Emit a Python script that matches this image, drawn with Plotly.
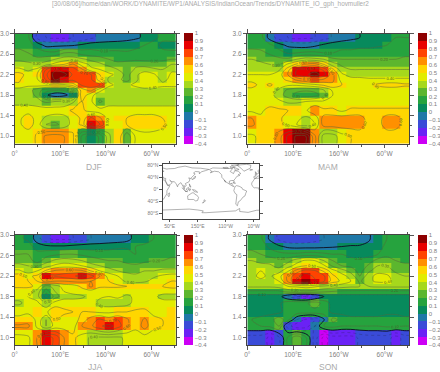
import numpy as np
import plotly.graph_objects as go

TITLE = "[30/08/06]/home/dan/WORK/DYNAMITE/WP1/ANALYSIS/IndianOcean/Trends/DYNAMITE_IO_gph_hovmuller2"
X_EDGES = list(np.linspace(0, 354, 19))
Y_EDGES = [3.0, 2.85, 2.7, 2.55, 2.45, 2.35, 2.25, 2.15, 2.05, 1.95, 1.85, 1.75, 1.6, 1.4, 1.3, 1.15, 0.85]
LEVELS = [-0.4, -0.3, -0.2, -0.1, 0, 0.1, 0.2, 0.3, 0.4, 0.5, 0.6, 0.7, 0.8, 0.9, 1.0]
BAND_COLORS = ["#cc00f5", "#6a22f5", "#3a4bd8", "#1f78a8", "#078a5c", "#26a33e", "#5cb62e",
               "#a6d81c", "#e2ec00", "#ffd600", "#ff9000", "#ff4300", "#e80000", "#8e0000"]

DJF = [
 [.15,.12,-.12,-.2,-.22,-.22,-.2,-.18,-.12,-.08,-.06,-.05,-.04,-.02,.02,.08,.12,.14],
 [.18,.15,.06,-.03,-.02,-.02,-.01,.02,.05,.05,.05,.05,.06,.08,.1,.13,.08,.06],
 [.22,.2,.16,.13,.12,.2,.21,.15,.14,.12,.12,.12,.11,.12,.13,.14,.12,.12],
 [.28,.26,.22,.25,.3,.35,.35,.32,.27,.25,.2,.18,.17,.18,.18,.18,.18,.2],
 [.35,.33,.32,.36,.44,.5,.62,.45,.38,.32,.27,.22,.25,.27,.25,.24,.25,.3],
 [.42,.38,.42,.7,.88,.82,.75,.62,.42,.4,.36,.3,.22,.32,.36,.32,.3,.38],
 [.55,.45,.5,.78,.95,.95,.78,.75,.72,.5,.42,.38,.26,.38,.45,.42,.32,.42],
 [.52,.4,.48,.72,.92,.82,.72,.75,.72,.55,.38,.33,.26,.38,.46,.45,.38,.42],
 [.48,.42,.45,.45,.5,.48,.55,.72,.75,.72,.42,.38,.38,.42,.48,.45,.42,.42],
 [.35,.35,.25,.15,.12,.12,.25,.55,.65,.42,.36,.36,.36,.36,.36,.36,.36,.36],
 [.34,.34,.28,.02,-.08,-.05,.08,.58,.42,.36,.36,.36,.36,.36,.36,.36,.36,.36],
 [.36,.36,.33,.28,.3,.32,.38,.5,.42,.28,.36,.36,.36,.36,.36,.36,.36,.36],
 [.46,.46,.46,.46,.46,.46,.52,.52,.46,.44,.44,.44,.44,.44,.44,.44,.44,.44],
 [.48,.55,.46,.38,.34,.36,.44,.52,.72,.62,.46,.5,.5,.55,.55,.55,.5,.46],
 [.48,.56,.45,.3,.28,.33,.45,.52,.85,.7,.46,.48,.5,.58,.58,.56,.52,.46],
 [.42,.42,.52,.62,.65,.6,.52,.18,.02,.12,.38,.5,.22,.42,.46,.46,.46,.48],
]
MAM = [
 [.14,.14,-.05,-.14,-.2,-.23,-.22,-.2,-.14,-.09,-.06,-.03,.0,.04,.07,.09,.1,.1],
 [.16,.15,.13,.04,-.02,-.04,-.05,-.02,.02,.05,.07,.07,.08,.08,.09,.1,.12,.12],
 [.24,.23,.18,.15,.09,.1,.12,.12,.1,.1,.12,.12,.13,.13,.14,.14,.16,.17],
 [.3,.28,.26,.22,.22,.3,.35,.33,.3,.22,.2,.2,.2,.2,.2,.2,.2,.22],
 [.34,.32,.3,.28,.42,.52,.62,.65,.5,.35,.28,.26,.25,.25,.25,.25,.25,.27],
 [.36,.36,.36,.38,.55,.8,.82,.85,.78,.52,.34,.3,.3,.3,.3,.3,.3,.3],
 [.4,.4,.4,.45,.6,.83,.88,.95,.85,.62,.42,.36,.35,.35,.35,.35,.35,.35],
 [.46,.44,.44,.46,.52,.62,.68,.72,.68,.62,.46,.44,.44,.42,.42,.42,.42,.42],
 [.55,.46,.52,.45,.42,.42,.45,.48,.52,.58,.5,.46,.46,.48,.52,.55,.55,.52],
 [.46,.46,.44,.38,.28,.24,.22,.24,.3,.42,.46,.44,.44,.44,.44,.44,.44,.44],
 [.45,.45,.44,.35,.25,.15,.12,.15,.25,.4,.44,.44,.44,.44,.44,.44,.44,.44],
 [.44,.44,.44,.42,.38,.38,.4,.42,.42,.44,.44,.44,.44,.44,.44,.44,.44,.44],
 [.48,.48,.54,.52,.5,.5,.48,.6,.52,.52,.48,.52,.52,.52,.52,.52,.52,.52],
 [.6,.52,.52,.52,.46,.42,.38,.42,.65,.65,.65,.65,.65,.55,.55,.65,.65,.55],
 [.62,.55,.52,.52,.48,.4,.34,.4,.65,.66,.66,.66,.66,.55,.55,.66,.65,.55],
 [.48,.53,.53,.65,.82,.92,.9,.62,.35,.35,.46,.5,.53,.53,.53,.53,.53,.53],
]
JJA = [
 [.12,.08,-.05,-.18,-.22,-.22,-.2,-.15,-.1,-.08,-.07,-.07,-.04,.04,.08,.1,.12,.12],
 [.17,.15,.05,.03,.02,.02,.04,.05,.05,.05,.06,.08,.08,.1,.11,.13,.15,.15],
 [.2,.2,.14,.16,.18,.2,.2,.18,.16,.15,.15,.15,.15,.1,.15,.17,.18,.18],
 [.27,.25,.15,.25,.32,.35,.33,.3,.25,.22,.2,.2,.18,.15,.18,.2,.2,.22],
 [.32,.3,.28,.36,.42,.45,.44,.4,.34,.3,.26,.24,.22,.22,.24,.25,.26,.27],
 [.42,.34,.4,.52,.62,.64,.64,.62,.5,.4,.35,.3,.27,.27,.3,.3,.32,.32],
 [.55,.48,.52,.8,.72,.75,.78,.85,.75,.6,.46,.4,.35,.32,.35,.38,.42,.45],
 [.52,.5,.5,.65,.6,.6,.62,.62,.6,.52,.5,.45,.38,.36,.38,.44,.48,.5],
 [.52,.52,.48,.25,.35,.44,.45,.52,.62,.52,.52,.52,.5,.5,.5,.5,.5,.52],
 [.44,.44,.36,.15,.3,.4,.44,.46,.46,.42,.42,.42,.44,.46,.46,.46,.46,.46],
 [.44,.4,.36,.02,.25,.36,.36,.38,.44,.42,.4,.42,.38,.42,.44,.44,.35,.34],
 [.38,.44,.42,.32,.44,.46,.46,.46,.46,.36,.34,.34,.36,.44,.46,.46,.46,.46],
 [.48,.48,.5,.48,.58,.52,.5,.5,.5,.48,.48,.5,.5,.52,.52,.48,.46,.5],
 [.52,.56,.48,.3,.5,.46,.44,.54,.65,.72,.65,.7,.62,.52,.62,.52,.5,.5],
 [.62,.62,.48,.3,.44,.46,.46,.6,.68,.78,.85,.75,.62,.52,.65,.52,.5,.5],
 [.46,.48,.6,.85,.78,.6,.52,.46,.38,.38,.38,.38,.42,.46,.45,.46,.46,.47],
]
SON = [
 [.14,.12,-.02,-.12,-.18,-.2,-.18,-.14,-.1,-.09,-.08,-.07,-.05,-.01,.05,.1,.12,.12],
 [.18,.15,.08,.02,-.02,-.03,-.03,-.03,-.02,-.01,.0,.01,.01,.02,.07,.12,.14,.14],
 [.22,.2,.15,.13,.12,.12,.14,.14,.12,.1,.1,.08,.07,.06,.1,.15,.17,.17],
 [.3,.28,.26,.24,.26,.36,.42,.4,.3,.2,.15,.12,.12,.15,.24,.28,.2,.18],
 [.34,.32,.32,.26,.36,.44,.5,.48,.42,.28,.2,.18,.12,.22,.3,.3,.22,.22],
 [.36,.4,.35,.36,.48,.65,.75,.72,.58,.44,.35,.26,.16,.28,.36,.35,.28,.25],
 [.38,.42,.38,.46,.62,.78,.85,.78,.72,.52,.44,.36,.2,.36,.44,.42,.34,.3],
 [.36,.38,.36,.4,.62,.82,.9,.82,.72,.55,.48,.4,.28,.38,.42,.42,.38,.33],
 [.32,.32,.32,.34,.4,.42,.45,.42,.38,.36,.34,.32,.3,.3,.32,.32,.32,.32],
 [.18,.18,.18,.18,.24,.26,.28,.26,.22,.2,.18,.18,.18,.18,.18,.18,.18,.18],
 [.05,.05,.05,.05,-.1,-.2,-.22,-.15,.0,.05,.05,.05,.05,.05,.05,.05,.05,.05],
 [.06,.06,.06,.08,.16,.18,.18,.26,.16,.06,.05,.05,.05,.05,.05,.05,.05,.05],
 [.07,.07,.07,.07,.15,.16,.16,.16,.16,.07,.07,.07,.07,.07,.07,.07,.07,.07],
 [.1,.12,.15,.26,.14,-.1,-.22,-.2,-.02,.24,.16,.12,.12,.12,.12,.16,.16,.12],
 [.1,.1,.12,.2,-.15,-.28,-.25,-.1,.1,.14,.1,.1,.1,.1,.1,.12,.12,.1],
 [-.15,-.15,-.22,-.12,.12,.28,.12,-.15,-.33,-.25,-.25,-.25,-.18,-.15,-.15,-.15,-.25,-.15],
]
PANELS = {"DJF": DJF, "MAM": MAM, "JJA": JJA, "SON": SON}
PANEL_NAMES = ["DJF", "MAM", "JJA", "SON"]

X_MAJOR = [0, 100, 200, 300]
X_LABELS = ["0°", "100°E", "160°W", "60°W"]
X_MINOR = [50, 150, 250, 350]
Y_MAJOR = [1.0, 1.4, 1.8, 2.2, 2.6, 3.0]
Y_MINOR = [1.2, 1.6, 2.0, 2.4, 2.8]

COAST_LON = [
 [-17,-17,-10,-6,10,11,20,32,35,39,43,51,45,40,40,35,28,20,15,12,13,9,9,-4,-8,-13,-17],
 [-9,-9,-1,-4,3,9,9,13,20,24,30,22,18,22,17,12,6,5,14,25,40,45,68,80,105,130,160,180,190,178,163,156,156,142,135,141,130,127,127,121,118,122,118,110,106,109,105,100,103,98,94,90,80,78,73,67,57,50,55,59,52,43,39,35,36,27,27,23,19,13,18,16,8,3,-1,-6,-9],
 [114,122,130,136,140,146,153,150,143,135,124,115,114],
 [173,178,172,167,172,173],
 [95,104,106,100,95],
 [109,117,118,114,110,109],
 [105,114,106,105],
 [131,141,150,138,131],
 [120,122,126,122,120],
 [119,125,122,120,119],
 [130,136,141,142,140,133,130],
 [49,50,47,44,44,49],
 [-45,-22,-20,-35,-70,-55,-45],
 [-168,-156,-128,-95,-85,-94,-82,-78,-65,-56,-65,-60,-70,-76,-81,-80,-83,-90,-97,-97,-91,-87,-88,-83,-80,-85,-95,-105,-110,-115,-110,-118,-124,-124,-135,-150,-165,-158,-165,-168],
 [-80,-70,-62,-75,-80],
 [-120,-105,-100,-115,-120],
 [-90,-70,-62,-80,-90],
 [-95,-80,-90,-95],
 [-84,-75,-78,-84],
 [-5,1,-2,-5,-3,-5],
 [-24,-14,-15,-22,-24],
 [-77,-72,-62,-52,-50,-35,-39,-41,-48,-53,-58,-65,-68,-68,-74,-73,-70,-76,-81,-79,-77],
 [-180,-150,-120,-100,-75,-60,-60,-30,0,30,60,90,120,150,170,165,180],
]
COAST_LAT = [
 [15,21,30,36,37,33,31,31,25,15,12,12,2,-5,-15,-24,-33,-35,-27,-17,-8,-1,4,5,4,9,15],
 [37,43,44,48,51,54,57,54,55,59,60,60,62,66,62,56,58,62,68,71,67,68,69,73,77,71,70,69,66,62,58,51,58,59,54,51,42,38,35,39,38,31,24,21,19,12,9,13,2,9,16,22,15,8,18,25,25,30,25,22,16,13,21,28,36,37,41,38,41,45,40,38,44,43,38,36,37],
 [-22,-18,-12,-12,-17,-19,-27,-37,-39,-34,-33,-34,-22],
 [-35,-38,-44,-46,-41,-35],
 [5,-3,-6,-2,5],
 [1,6,1,-4,-2,1],
 [-7,-8,-7.5,-7],
 [-1,-3,-10,-8,-1],
 [18,14,7,8,18],
 [1,1,-5,-5,1],
 [32,34,37,44,41,35,32],
 [-12,-17,-25,-22,-16,-12],
 [60,70,80,83,80,70,60],
 [66,71,70,68,69,59,52,62,60,52,49,46,43,35,30,25,29,29,27,20,18,21,16,12,9,10,16,20,25,31,23,34,40,48,58,60,55,59,62,66],
 [73,70,66,63,73],
 [72,73,70,69,72],
 [80,83,82,76,80],
 [75,73,71,75],
 [22,20,22,22],
 [50,51,57,58,54,50],
 [64,65,66,66,64],
 [8,12,10,5,0,-6,-15,-22,-26,-34,-38,-42,-52,-55,-50,-38,-18,-14,-5,2,8],
 [-78,-76,-74,-73,-72,-64,-74,-77,-70,-69,-67,-66,-66,-69,-72,-78,-78],
]
MAP_X_MAJOR = [50, 150, 250, 350]
MAP_X_LABELS = ["50°E", "150°E", "110°W", "10°W"]
MAP_Y_MAJOR = [80, 40, 0, -40, -80]
MAP_Y_LABELS = ["80°N", "40°N", "0°", "40°S", "80°S"]

W, H = 440, 372
BOXES = {"DJF": (14.7, 176, 33.7, 143.7, 184, 144, 33.5),
         "MAM": (247.3, 409.3, 33.7, 143.7, 417.7, 144, 33.5),
         "JJA": (14.7, 176, 235, 345.3, 184, 345.3, 235),
         "SON": (247.3, 409.3, 235, 345.3, 417.7, 345.3, 235)}
LABEL_POS = {"DJF": (94, 167), "MAM": (328, 167), "JJA": (95, 367), "SON": (328, 367)}

GREY = "#808080"
fig = go.Figure()

scale = []
for i, c in enumerate(BAND_COLORS):
    scale += [[i / len(BAND_COLORS), c], [(i + 1) / len(BAND_COLORS), c]]

xe = np.array(X_EDGES)
ye = np.array(Y_EDGES)
xc = (xe[:-1] + xe[1:]) / 2
yc = (ye[:-1] + ye[1:]) / 2
xp = np.concatenate([[xe[0]], xc, [xe[-1]]])
yp = np.concatenate([[ye[0]], yc, [ye[-1]]])


def style_axis(ax, **kw):
    ax.update(showgrid=False, zeroline=False, showline=True, linecolor="#444", linewidth=0.7,
              mirror="allticks", ticks="outside", ticklen=3.5, tickwidth=0.7, tickcolor="#555",
              tickfont=dict(family="Liberation Sans", size=6.5, color=GREY), **kw)


for n, name in enumerate(PANEL_NAMES, start=1):
    z = np.array(PANELS[name])
    x0, x1, y0, y1, cx, cb, ct = BOXES[name]
    xa = f"x{n}" if n > 1 else "x"
    ya = f"y{n}" if n > 1 else "y"
    fig.add_trace(go.Heatmap(
        x=X_EDGES, y=Y_EDGES, z=z, zmin=LEVELS[0], zmax=LEVELS[-1], colorscale=scale,
        xaxis=xa, yaxis=ya, hoverinfo="skip",
        colorbar=dict(x=cx / W, xanchor="left", y=1 - cb / H, yanchor="bottom",
                      len=(cb - ct), lenmode="pixels", thickness=8.7, thicknessmode="pixels",
                      tickvals=LEVELS, ticktext=[str(v).replace("-", "−").replace("1.0", "1") if v != 0 else "0" for v in LEVELS],
                      ticks="", outlinewidth=0, xpad=0, ypad=0, ticklabelposition="outside",
                      tickfont=dict(family="Liberation Sans", size=6, color=GREY))))
    zp = np.pad(z, 1, mode="edge")
    fig.add_trace(go.Contour(
        x=xp, y=yp, z=zp, showscale=False, xaxis=xa, yaxis=ya, hoverinfo="skip",
        contours=dict(coloring="none", start=0.1, end=1.0, size=0.1, showlabels=True,
                      labelfont=dict(size=4, color="#4a5a28", family="Liberation Sans"),
                      labelformat=".2f"),
        line=dict(color="#55663a", width=0.5, smoothing=0.9)))
    fig.add_trace(go.Contour(
        x=xp, y=yp, z=zp, showscale=False, xaxis=xa, yaxis=ya, hoverinfo="skip",
        contours=dict(coloring="none", start=-0.4, end=-0.1, size=0.1),
        line=dict(color="rgba(30,30,60,0.5)", width=0.5, dash="dot")))
    fig.add_trace(go.Contour(
        x=xp, y=yp, z=zp, showscale=False, xaxis=xa, yaxis=ya, hoverinfo="skip",
        contours=dict(coloring="none", start=0, end=0, size=1),
        line=dict(color="#10182a", width=1)))
    xname = "xaxis" if n == 1 else f"xaxis{n}"
    yname = "yaxis" if n == 1 else f"yaxis{n}"
    layout_x = dict(domain=[x0 / W, x1 / W], range=[0, 354], tickmode="array",
                    tickvals=X_MAJOR, ticktext=X_LABELS, anchor=ya,
                    minor=dict(tickvals=X_MINOR, ticklen=2, ticks="outside", tickcolor="#555", tickwidth=0.7))
    layout_y = dict(domain=[1 - y1 / H, 1 - y0 / H], range=[0.85, 3.0], tickmode="array",
                    tickvals=Y_MAJOR, ticktext=[f"{v:.1f}" for v in Y_MAJOR], anchor=xa,
                    minor=dict(tickvals=Y_MINOR, ticklen=2, ticks="outside", tickcolor="#555", tickwidth=0.7))
    fig.layout[xname] = layout_x
    fig.layout[yname] = layout_y
    style_axis(fig.layout[xname])
    style_axis(fig.layout[yname])
    px, py = LABEL_POS[name]
    fig.add_annotation(x=px / W, y=1 - py / H, xref="paper", yref="paper", text=name, showarrow=False,
                       font=dict(family="Liberation Sans", size=8.5, color="#aaaaaa"),
                       xanchor="center", yanchor="middle")

# map panel: coastlines drawn once and again one full turn east, clipped by the axes
mx, my = [], []
for lons, lats in zip(COAST_LON, COAST_LAT):
    for off in (0, 360):
        mx += [v + off for v in lons] + [None]
        my += list(lats) + [None]
fig.add_trace(go.Scatter(x=mx, y=my, mode="lines", line=dict(color="#666666", width=0.5),
                         xaxis="x5", yaxis="y5", hoverinfo="skip", showlegend=False))
fig.layout["xaxis5"] = dict(domain=[162.7 / W, 259.3 / W], range=[25, 370], anchor="y5", tickmode="array",
                            tickvals=MAP_X_MAJOR, ticktext=MAP_X_LABELS)
fig.layout["yaxis5"] = dict(domain=[1 - 219 / H, 1 - 164 / H], range=[-99, 84], anchor="x5", tickmode="array",
                            tickvals=MAP_Y_MAJOR, ticktext=MAP_Y_LABELS)
style_axis(fig.layout["xaxis5"])
style_axis(fig.layout["yaxis5"])
fig.layout["xaxis5"].tickfont.size = 5
fig.layout["yaxis5"].tickfont.size = 5
fig.layout["xaxis5"].ticklen = 2.5
fig.layout["yaxis5"].ticklen = 2.5

fig.add_annotation(x=210 / W, y=1 - 4 / H, xref="paper", yref="paper", text=TITLE, showarrow=False,
                   font=dict(family="Liberation Sans", size=6.4, color="#aaaaaa"), xanchor="center", yanchor="middle")

fig.update_layout(width=W, height=H, autosize=False, margin=dict(l=0, r=0, t=0, b=0, autoexpand=False),
                  paper_bgcolor="white", plot_bgcolor="white", showlegend=False)
fig.write_html("out.html", config={"displayModeBar": False},
               post_script="document.body.style.margin='0';document.documentElement.style.overflow='hidden';window.dispatchEvent(new Event('resize'));")
